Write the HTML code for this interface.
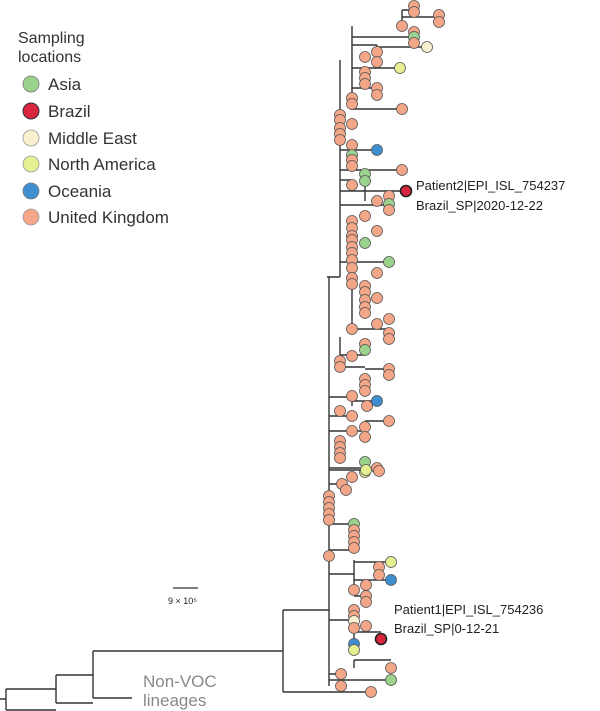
<!DOCTYPE html>
<html><head><meta charset="utf-8"><style>
html,body{margin:0;padding:0;background:#fff;width:600px;height:711px;overflow:hidden}
svg{display:block}
text{font-family:"Liberation Sans",sans-serif}
</style></head><body>
<svg id="s" width="600" height="711" viewBox="0 0 600 711" xmlns="http://www.w3.org/2000/svg">
<g stroke="#333" stroke-width="1.4" fill="none" id="lines">
<!-- root -->
<path d="M0 699H6M6 689V710M6 689H56M6 710H56M56 675V703M56 675H93M56 703H93M93 651V698M93 651H283M93 698H132M283 610V692M283 610H329M283 692H371"/>
<path d="M329 277V686M340 60V277M327 277H340M329 277V277M340 180H352M352 26V110"/>
<path d="M402 10V26M402 10H414M402 17H438M438 15V22M352 37H414M414 32V43M352 45H377M377 45V62M377 47H427M352 68H400M352 88H377M377 88V95M352 109H402"/>
<path d="M340 150H377M340 170H402M340 191H365M365 187V201M365 191H406M340 205H389M389 204V210M340 262H389"/>
<path d="M352 285V330M352 329H389M389 333V339M340 337V355M340 355H365M365 344V350M340 367H365M365 379V391M365 369H389M389 369V375"/>
<path d="M329 397H352M352 397V406M352 401H377M329 416H352M329 431H365M365 421V437M365 421H389M329 468H377M329 470H366M329 484H342M342 484V490"/>
<path d="M329 524H354M354 524V548M329 550H354M329 556H329"/>
<path d="M329 574H354M354 560V590M354 562H391M379 562V575M354 580H391M354 596H366M366 596V602M329 620H354M354 610V650M354 632H381M354 660H391M354 660V668M329 680H391M329 674H341M341 674V686"/>
</g>
<g id="nodes" stroke="#555" stroke-width="0.8"></g>
<g font-size="17" fill="#333">
<text x="18" y="43" font-size="16">Sampling</text>
<text x="18" y="62" font-size="16">locations</text>
<circle cx="31" cy="84" r="8" fill="#9bd28c" stroke="#777" stroke-width=".8"/><text x="48" y="90">Asia</text>
<circle cx="31" cy="111" r="8" fill="#d7263d" stroke="#333" stroke-width="1"/><text x="48" y="117">Brazil</text>
<circle cx="31" cy="138" r="8" fill="#faefcf" stroke="#999" stroke-width=".8"/><text x="48" y="144">Middle East</text>
<circle cx="31" cy="164" r="8" fill="#e6ef92" stroke="#999" stroke-width=".8"/><text x="48" y="170">North America</text>
<circle cx="31" cy="191" r="8" fill="#3f8fd0" stroke="#777" stroke-width=".8"/><text x="48" y="197">Oceania</text>
<circle cx="31" cy="217" r="8" fill="#f4a688" stroke="#999" stroke-width=".8"/><text x="48" y="223">United Kingdom</text>
</g>
<g font-size="13" fill="#222">
<text x="416" y="190">Patient2|EPI_ISL_754237</text>
<text x="416" y="210">Brazil_SP|2020-12-22</text>
<text x="394" y="614">Patient1|EPI_ISL_754236</text>
<text x="394" y="633">Brazil_SP|0-12-21</text>
</g>
<path d="M173 588H198" stroke="#333" stroke-width="1.2"/>
<text x="168" y="604" font-size="9" fill="#222">9 × 10⁵</text>
<text x="143" y="687" font-size="17" fill="#888">Non-VOC</text>
<text x="143" y="706" font-size="17" fill="#888">lineages</text>
</svg>
<script>
var C={u:"#f4a688",g:"#9bd28c",r:"#d7263d",m:"#faefcf",y:"#e6ef92",b:"#3f8fd0"};
var L=[[414,6],[414,12],[439,15],[439,22],[402,26],[414,32],[414,37,'g'],[414,43],[377,52],[427,47,'m'],[377,62],[365,57],[400,68,'y'],[365,72],[365,78],[365,84],[377,88],[377,95],[352,98],[352,104],[402,109],
[340,115],[340,120],[352,124],[340,128],[340,134],[340,140],[352,145],[377,150,'b'],[352,155,'g'],[352,160],[352,166],[402,170],[365,174,'g'],[365,181,'g'],[352,185],[389,196],[377,201],[389,204,'g'],[389,210],[365,216],[352,221],[352,228],[377,231],[352,236],
[352,240],[365,243,'g'],[352,247],[352,253],[352,260],[389,262,'g'],[352,268],[377,273],[352,278],[352,284],[365,286],[365,292],[365,300],[377,298],[365,307],[365,313],[389,319],[377,324],[352,329],[389,333],[389,339],
[365,344],[365,350,'g'],[352,356],[340,361],[340,367],[389,369],[389,375],[365,379],[365,385],[365,391],[352,396],[377,401,'b'],[367,406],[340,411],[352,416],[389,421],[365,427],[352,431],[365,437],[340,441],[340,447],[340,453],[340,458],[365,462,'g'],[377,468],[365,472,'y'],[352,477],
[366,470,'y'],[379,471],[342,484],[346,490],[329,496],[329,502],[329,508],[329,514],[329,520],[354,524,'g'],[354,530],[354,536],[354,542],[354,548],[329,556],
[391,562,'y'],[379,567],[379,575],[391,580,'b'],[366,585],[354,590],[366,596],[366,602],[354,610],[354,616],[354,621,'m'],[366,626],[354,628],[354,644,'b'],[354,650,'y'],[391,668],[391,680,'g'],[341,674],[341,686],[371,692]];
var g=document.getElementById('nodes'),h='';
L.forEach(function(p){h+='<circle cx="'+p[0]+'" cy="'+p[1]+'" r="5.5" fill="'+C[p[2]||'u']+'"/>';});
h+='<circle cx="406" cy="191" r="5.5" fill="#d7263d" stroke="#222" stroke-width="1.6"/>';
h+='<circle cx="381" cy="639" r="5.5" fill="#d7263d" stroke="#222" stroke-width="1.6"/>';
g.innerHTML=h;
</script>
</body></html>
